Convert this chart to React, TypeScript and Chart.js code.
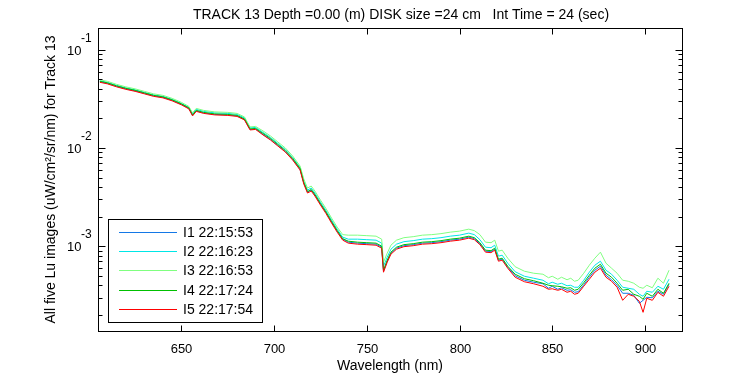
import React, { useEffect, useRef } from 'react';
import { Chart, registerables } from 'chart.js';

Chart.register(...registerables);

const wavelengths = [
  606, 610, 615, 620, 625, 630, 635, 640, 645, 650,
  654, 656, 658, 662, 668, 675, 680, 684, 687, 690,
  694, 698, 702, 706, 710, 714, 716, 718, 720, 722,
  725, 728, 731, 734, 737, 740, 745, 750, 755, 758,
  759, 761, 763, 766, 770, 775, 780, 785, 790, 795,
  800, 805, 808, 811, 814, 817, 819, 821, 823, 826,
  830, 835, 840, 845, 848, 850, 853, 855, 858, 860,
  862, 864, 867, 870, 873, 876, 879, 882, 885, 888,
  891, 894, 897, 899, 901, 904, 907, 910, 913,
];

const I1 = [
  0.04714, 0.04551, 0.04241, 0.03999, 0.03815, 0.03598, 0.03392, 0.03275, 0.03052, 0.02778,
  0.02528, 0.02145, 0.02384, 0.02275, 0.02196, 0.02170, 0.02120, 0.01952, 0.01544, 0.01562,
  0.01373, 0.01221, 0.01060, 0.009207, 0.007628, 0.006030, 0.004393, 0.003556, 0.003727, 0.003314,
  0.002682, 0.002196, 0.001757, 0.001422, 0.001178, 0.001098, 0.001073, 0.001060, 0.001048, 0.0009761,
  0.0005557, 0.0007029, 0.0008484, 0.0009535, 0.001011, 0.001036, 0.001073, 0.001085, 0.001111, 0.001151,
  0.001178, 0.001235, 0.001192, 0.001060, 0.0008892, 0.0008789, 0.0009312, 0.0007196, 0.0007367, 0.0006104,
  0.0004999, 0.0004497, 0.0004291, 0.0004142, 0.0003726, 0.0003905, 0.0003639, 0.0003770, 0.0003555, 0.0003597,
  0.0003392, 0.0003432, 0.0004046, 0.0004826, 0.0005689, 0.0006250, 0.0005058, 0.0004551, 0.0003998, 0.0003313,
  0.0003313, 0.0003161, 0.0002619, 0.0002810, 0.0003016, 0.0002981, 0.0003473, 0.0003236, 0.0004094,
];

const I2 = [
  0.04826, 0.04659, 0.04342, 0.04094, 0.03906, 0.03683, 0.03473, 0.03353, 0.03125, 0.02844,
  0.02589, 0.02222, 0.02470, 0.02357, 0.02275, 0.02248, 0.02196, 0.02022, 0.01599, 0.01618,
  0.01439, 0.01280, 0.01111, 0.009645, 0.007996, 0.006320, 0.004605, 0.003727, 0.003906, 0.003474,
  0.002811, 0.002302, 0.001841, 0.001490, 0.001235, 0.001178, 0.001178, 0.001164, 0.001151, 0.001073,
  0.0006250, 0.0007722, 0.0009312, 0.001048, 0.001111, 0.001138, 0.001178, 0.001192, 0.001220, 0.001264,
  0.001294, 0.001357, 0.001310, 0.001164, 0.0009761, 0.0009647, 0.001023, 0.0007905, 0.0008093, 0.0006707,
  0.0005493, 0.0004941, 0.0004714, 0.0004497, 0.0004142, 0.0004291, 0.0004094, 0.0004191, 0.0003952, 0.0003998,
  0.0003815, 0.0003815, 0.0004497, 0.0005428, 0.0006398, 0.0007029, 0.0005689, 0.0005179, 0.0004497, 0.0003815,
  0.0003726, 0.0003639, 0.0003236, 0.0003088, 0.0003473, 0.0003392, 0.0003905, 0.0003639, 0.0004604,
];

const I3 = [
  0.04941, 0.04771, 0.04445, 0.04191, 0.03999, 0.03771, 0.03556, 0.03433, 0.03199, 0.02912,
  0.02650, 0.02275, 0.02528, 0.02413, 0.02329, 0.02302, 0.02248, 0.02070, 0.01637, 0.01657,
  0.01491, 0.01326, 0.01151, 0.01000, 0.008282, 0.006547, 0.004826, 0.003906, 0.004094, 0.003641,
  0.002946, 0.002413, 0.001930, 0.001562, 0.001310, 0.001294, 0.001294, 0.001279, 0.001264, 0.001178,
  0.0006866, 0.0008484, 0.001023, 0.001151, 0.001220, 0.001249, 0.001294, 0.001310, 0.001341, 0.001389,
  0.001422, 0.001490, 0.001439, 0.001310, 0.001098, 0.001085, 0.001151, 0.0008892, 0.0009103, 0.0007543,
  0.0006177, 0.0005557, 0.0005302, 0.0005179, 0.0004770, 0.0004941, 0.0004604, 0.0004826, 0.0004551, 0.0004714,
  0.0004393, 0.0004497, 0.0005302, 0.0006398, 0.0007543, 0.0008685, 0.0006707, 0.0005963, 0.0005302, 0.0004497,
  0.0004393, 0.0004191, 0.0003815, 0.0003726, 0.0003998, 0.0003770, 0.0004714, 0.0004191, 0.0005689,
];

const I4 = [
  0.04771, 0.04605, 0.04291, 0.04046, 0.03861, 0.03640, 0.03433, 0.03314, 0.03088, 0.02811,
  0.02558, 0.02170, 0.02413, 0.02302, 0.02222, 0.02196, 0.02145, 0.01975, 0.01562, 0.01581,
  0.01406, 0.01250, 0.01085, 0.009425, 0.007810, 0.006173, 0.004445, 0.003598, 0.003771, 0.003353,
  0.002714, 0.002222, 0.001778, 0.001439, 0.001192, 0.001124, 0.001098, 0.001085, 0.001073, 0.001000,
  0.0005689, 0.0007196, 0.0008685, 0.0009761, 0.001036, 0.001060, 0.001098, 0.001111, 0.001138, 0.001178,
  0.001206, 0.001264, 0.001220, 0.001085, 0.0009103, 0.0008997, 0.0009535, 0.0007367, 0.0007543, 0.0006250,
  0.0005179, 0.0004659, 0.0004445, 0.0004191, 0.0003998, 0.0003952, 0.0003905, 0.0003860, 0.0003726, 0.0003770,
  0.0003555, 0.0003639, 0.0004241, 0.0005058, 0.0005963, 0.0006550, 0.0005302, 0.0004826, 0.0004191, 0.0003555,
  0.0003639, 0.0003236, 0.0003088, 0.0002877, 0.0003313, 0.0003088, 0.0003639, 0.0003313, 0.0004191,
];

const I5 = [
  0.04659, 0.04498, 0.04191, 0.03952, 0.03771, 0.03556, 0.03353, 0.03237, 0.03016, 0.02745,
  0.02499, 0.02120, 0.02357, 0.02248, 0.02170, 0.02145, 0.02095, 0.01930, 0.01526, 0.01544,
  0.01357, 0.01206, 0.01047, 0.009098, 0.007538, 0.005962, 0.004291, 0.003474, 0.003641, 0.003237,
  0.002620, 0.002145, 0.001716, 0.001389, 0.001151, 0.001073, 0.001048, 0.001036, 0.001023, 0.0009535,
  0.0005428, 0.0006866, 0.0008286, 0.0009312, 0.0009877, 0.001011, 0.001048, 0.001060, 0.001085, 0.001124,
  0.001151, 0.001206, 0.001164, 0.001036, 0.0008685, 0.0008584, 0.0009103, 0.0007029, 0.0007196, 0.0005963,
  0.0004826, 0.0004342, 0.0004142, 0.0003905, 0.0003639, 0.0003683, 0.0003555, 0.0003639, 0.0003392, 0.0003473,
  0.0003236, 0.0003313, 0.0003905, 0.0004604, 0.0005428, 0.0005963, 0.0004826, 0.0004393, 0.0003815, 0.0002810,
  0.0003236, 0.0003088, 0.0002745, 0.0002120, 0.0002946, 0.0002810, 0.0003392, 0.0003088, 0.0003905,
];

const seriesValues = [I1, I2, I3, I4, I5];
const seriesLabels = ['I1 22:15:53', 'I2 22:16:23', 'I3 22:16:53', 'I4 22:17:24', 'I5 22:17:54'];
const seriesColors = ['#1478e6', '#00e6e6', '#80ff80', '#00c000', '#ff0000'];

const xTickValues = [650, 700, 750, 800, 850, 900];
const yTickValues = [1e-1, 1e-2, 1e-3];
const yTickExponents = ['-1', '-2', '-3'];

const titleText = 'TRACK 13 Depth =0.00 (m) DISK size =24 cm   Int Time = 24 (sec)';
const xLabel = 'Wavelength (nm)';
const yLabel = 'All five Lu images (uW/cm\u00b2/sr/nm) for Track 13';

const FONT = '"Liberation Sans", Arial, sans-serif';

const framePlugin = {
  id: 'matlabFrame',
  afterDraw(chart: any) {
    const { ctx, chartArea: a, scales } = chart;
    const xs = scales.x;
    const ys = scales.y;
    const L = Math.round(a.left) + 0.5;
    const R = Math.round(a.right) + 0.5;
    const T = Math.round(a.top) + 0.5;
    const B = Math.round(a.bottom) + 0.5;
    ctx.save();
    ctx.strokeStyle = '#000';
    ctx.fillStyle = '#000';
    ctx.lineWidth = 1;
    const seg = (x1: number, y1: number, x2: number, y2: number) => {
      ctx.beginPath();
      ctx.moveTo(x1, y1);
      ctx.lineTo(x2, y2);
      ctx.stroke();
    };
    ctx.strokeRect(L, T, R - L, B - T);

    // x ticks and labels
    ctx.font = '13px ' + FONT;
    ctx.textAlign = 'center';
    ctx.textBaseline = 'alphabetic';
    for (const v of xTickValues) {
      const px = Math.round(xs.getPixelForValue(v)) + 0.5;
      seg(px, B, px, B - 6);
      seg(px, T, px, T + 6);
      ctx.fillText(String(v), px, 353);
    }

    // y ticks (major + minor)
    const ymin = ys.min;
    const ymax = ys.max;
    for (const major of yTickValues.concat([1e-4])) {
      for (let k = 1; k <= 9; k++) {
        const v = major * k;
        if (v < ymin || v > ymax) continue;
        const py = Math.round(ys.getPixelForValue(v)) + 0.5;
        const len = k === 1 ? 7 : 4;
        seg(L, py, L + len, py);
        seg(R, py, R - len, py);
      }
    }
    yTickValues.forEach((v, i) => {
      const py = ys.getPixelForValue(v);
      ctx.font = '13px ' + FONT;
      ctx.textAlign = 'right';
      ctx.fillText('10', 81.5, py + 5);
      ctx.font = '12px ' + FONT;
      ctx.textAlign = 'left';
      ctx.fillText(yTickExponents[i], 81, py - 8);
    });

    // title
    ctx.font = '14px ' + FONT;
    ctx.textAlign = 'center';
    ctx.fillText(titleText, 401, 19);

    // x label
    ctx.fillText(xLabel, (a.left + a.right) / 2, 370);

    // y label
    ctx.save();
    ctx.translate(55, (a.top + a.bottom) / 2);
    ctx.rotate(-Math.PI / 2);
    ctx.textAlign = 'center';
    ctx.fillText(yLabel, 0, 0);
    ctx.restore();

    // legend
    const lx = 108.5, ly = 219.5, lw = 154, lh = 103;
    ctx.fillStyle = '#fff';
    ctx.fillRect(lx, ly, lw, lh);
    ctx.strokeStyle = '#000';
    ctx.strokeRect(lx, ly, lw, lh);
    ctx.font = '14px ' + FONT;
    ctx.textAlign = 'left';
    ctx.textBaseline = 'middle';
    chart.data.datasets.forEach((ds: any, i: number) => {
      const ry = Math.round(231.7 + i * 19.3) + 0.5;
      ctx.strokeStyle = ds.borderColor;
      seg(119, ry, 177, ry);
      ctx.fillStyle = '#000';
      ctx.fillText(ds.label, 183, ry + 1);
    });
    ctx.restore();
  },
};

export default function App() {
  const canvasRef = useRef<HTMLCanvasElement | null>(null);

  useEffect(() => {
    const canvas = canvasRef.current;
    if (!canvas) return;
    const chart = new Chart(canvas, {
      type: 'line',
      data: {
        datasets: seriesValues.map((vals, i) => ({
          label: seriesLabels[i],
          data: wavelengths.map((w, j) => ({ x: w, y: vals[j] })),
          borderColor: seriesColors[i],
          backgroundColor: seriesColors[i],
          borderWidth: 1,
          pointRadius: 0,
          fill: false,
          tension: 0,
          order: seriesValues.length - i,
        })),
      },
      options: {
        responsive: false,
        animation: false,
        events: [],
        devicePixelRatio: 1,
        layout: { padding: { top: 28, right: 68, left: 0, bottom: 0 } },
        plugins: {
          legend: { display: false },
          title: { display: false },
          tooltip: { enabled: false },
        },
        scales: {
          x: {
            type: 'linear',
            min: 605,
            max: 920,
            grid: { display: false },
            border: { display: false },
            ticks: { display: false },
            afterFit: (s: any) => { s.height = 44; },
          },
          y: {
            type: 'logarithmic',
            min: 1.368e-4,
            max: 0.1665,
            grid: { display: false },
            border: { display: false },
            ticks: { display: false },
            afterFit: (s: any) => { s.width = 98; },
          },
        },
      } as any,
      plugins: [framePlugin],
    });
    return () => chart.destroy();
  }, []);

  return (
    <div style={{ position: 'fixed', left: 0, top: 0, width: 750, height: 375, background: '#fff' }}>
      <canvas ref={canvasRef} width={750} height={375} style={{ display: 'block', width: 750, height: 375 }} />
    </div>
  );
}
